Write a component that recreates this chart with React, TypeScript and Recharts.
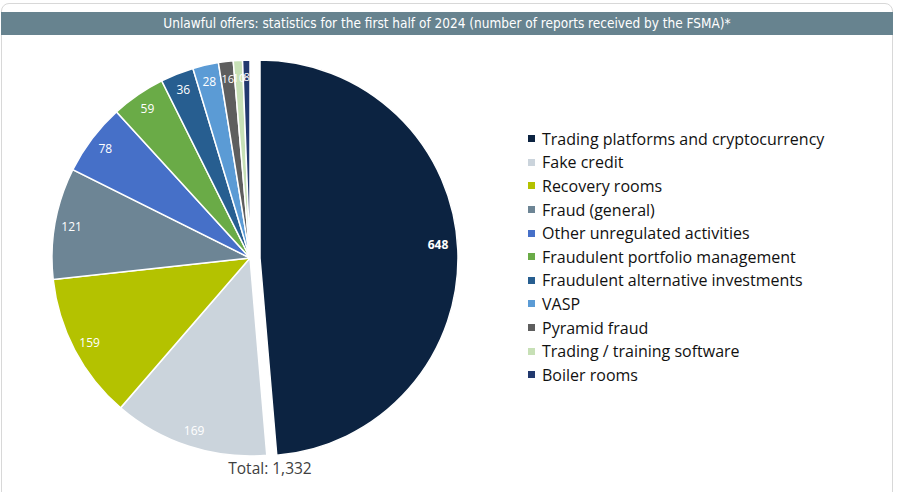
import React from 'react';
import { PieChart, Pie, Cell, Legend } from 'recharts';

const categories = [
  'Trading platforms and cryptocurrency',
  'Fake credit',
  'Recovery rooms',
  'Fraud (general)',
  'Other unregulated activities',
  'Fraudulent portfolio management',
  'Fraudulent alternative investments',
  'VASP',
  'Pyramid fraud',
  'Trading / training software',
  'Boiler rooms',
];
const reports = [648, 169, 159, 121, 78, 59, 36, 28, 16, 10, 8];
const colors = [
  '#0c2341', '#cbd4dc', '#b4c200', '#6d8595', '#4670c8', '#6aab47',
  '#275e90', '#5b9bd5', '#5e5e5e', '#c7e0b6', '#22396e',
];
const title = 'Unlawful offers: statistics for the first half of 2024 (number of reports received by the FSMA)*';
const totalLabel = 'Total: 1,332';

const data = categories.map((name, i) => ({ name, value: reports[i] }));

const RAD = Math.PI / 180;

const makeLabel = (only: (i: number) => boolean) => (props: any) => {
  const { cx, cy, midAngle, outerRadius, value, index } = props;
  if (!only(index)) return null;
  const r = outerRadius * (index === 0 ? 0.9 : 0.915);
  const x = cx + r * Math.cos(-midAngle * RAD);
  const y = cy + r * Math.sin(-midAngle * RAD);
  return (
    <text
      x={x}
      y={index === 0 ? y - 6 : y}
      fill="#ffffff"
      textAnchor="middle"
      dominantBaseline="central"
      fontSize={index >= 8 ? 11 : 12}
      fontWeight={index === 0 ? 700 : 400}
      fontFamily="'Open Sans', sans-serif"
    >
      {value}
    </text>
  );
};

const LegendContent = () => (
  <div style={{ fontFamily: "'Open Sans', sans-serif", fontSize: 16, color: '#111111' }}>
    {categories.map((c, i) => (
      <div key={c} style={{ display: 'flex', alignItems: 'center', height: 23.6 }}>
        <span
          style={{
            display: 'inline-block',
            width: 7,
            height: 7,
            background: colors[i],
            marginRight: 7,
          }}
        />
        <span>{c}</span>
      </div>
    ))}
  </div>
);

const CX = 250;
const CY = 258;
const R = 198;
const OFFSET = 10;

export default function App() {
  return (
    <div
      style={{
        position: 'absolute',
        left: 0,
        top: 0,
        width: 900,
        height: 492,
        background: '#ffffff',
        overflow: 'hidden',
      }}
    >
      <div
        style={{
          position: 'absolute',
          left: 1,
          top: 3,
          width: 892,
          height: 500,
          border: '1px solid #d8d8d8',
          borderRadius: 8,
          boxSizing: 'border-box',
        }}
      />
      <div
        style={{
          position: 'absolute',
          left: 1,
          top: 12,
          width: 892,
          height: 23,
          background: '#67838f',
          color: '#ffffff',
          fontFamily: "'DejaVu Sans Condensed', 'DejaVu Sans', sans-serif",
          fontSize: 13.5,
          lineHeight: '23px',
          textAlign: 'center',
        }}
      >
        {title}
      </div>
      <div style={{ position: 'absolute', left: 0, top: 0 }}>
        <PieChart width={900} height={492} margin={{ top: 0, right: 0, bottom: 0, left: 0 }}>
          <Pie
            data={data}
            dataKey="value"
            nameKey="name"
            cx={CX}
            cy={CY}
            outerRadius={R}
            startAngle={90}
            endAngle={-270}
            stroke="#ffffff"
            strokeWidth={1.5}
            labelLine={false}
            label={makeLabel((i) => i !== 0)}
            isAnimationActive={false}
          >
            {data.map((d, i) => (
              <Cell
                key={d.name}
                fill={i === 0 ? 'transparent' : colors[i]}
                stroke={i === 0 ? 'none' : '#ffffff'}
              />
            ))}
          </Pie>
          <Pie
            data={data}
            dataKey="value"
            nameKey="name"
            cx={CX + OFFSET}
            cy={CY}
            outerRadius={R}
            startAngle={90}
            endAngle={-270}
            stroke="#ffffff"
            strokeWidth={1.5}
            labelLine={false}
            label={makeLabel((i) => i === 0)}
            isAnimationActive={false}
          >
            {data.map((d, i) => (
              <Cell
                key={d.name}
                fill={i === 0 ? colors[0] : 'transparent'}
                stroke={i === 0 ? '#ffffff' : 'none'}
              />
            ))}
          </Pie>
          <Legend
            layout="vertical"
            content={<LegendContent />}
            wrapperStyle={{ position: 'absolute', left: 528, top: 127, width: 360 }}
          />
        </PieChart>
      </div>
      <div
        style={{
          position: 'absolute',
          left: 190,
          top: 457,
          width: 160,
          textAlign: 'center',
          fontFamily: "'Open Sans', sans-serif",
          fontSize: 15.5,
          color: '#404040',
        }}
      >
        {totalLabel}
      </div>
    </div>
  );
}
